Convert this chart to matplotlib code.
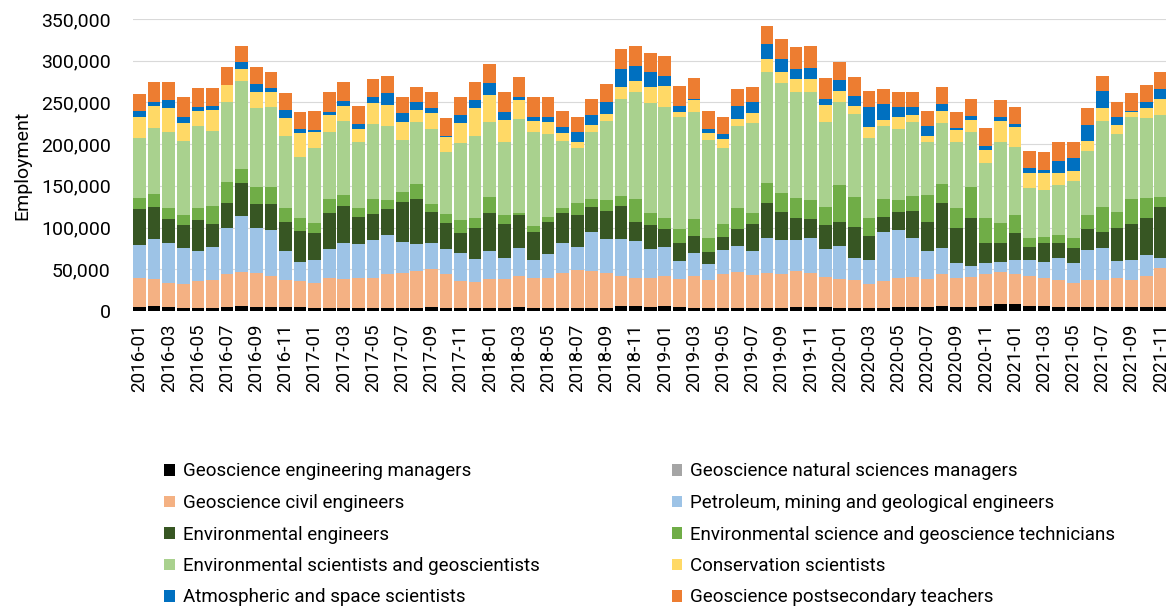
import matplotlib
matplotlib.use('Agg')

import matplotlib.pyplot as plt
import matplotlib.ticker as mticker
from matplotlib.patches import Patch
import numpy as np

plt.rcParams['font.family'] = ['Roboto', 'DejaVu Sans']

months = ['%d-%02d' % (y, m) for y in range(2016, 2022) for m in range(1, 13)][:71]

# employment, thousands
eng_managers = [5, 6, 5, 3, 4, 4, 5, 6, 5, 5, 5, 5,
                3, 3, 4, 4, 4, 4, 4, 4, 5, 4, 4, 4,
                4, 4, 5, 4, 4, 4, 4, 4, 4, 6, 6, 5,
                6, 5, 4, 4, 4, 4, 4, 4, 3, 5, 5, 5,
                4, 4, 3, 4, 5, 5, 5, 6, 5, 5, 6, 8,
                8, 6, 6, 5, 5, 5, 5, 5, 5, 5, 5]
nat_managers = [0] * 71
civil = [34, 32, 28, 29, 32, 33, 39, 41, 40, 37, 32, 31,
         31, 37, 34, 35, 36, 40, 42, 44, 45, 40, 32, 31,
         34, 34, 37, 35, 35, 42, 45, 44, 42, 36, 33, 34,
         36, 33, 38, 33, 40, 43, 39, 42, 41, 43, 41, 36,
         34, 33, 29, 32, 34, 36, 33, 38, 34, 36, 38, 39,
         36, 36, 33, 32, 29, 32, 32, 35, 32, 37, 46]
petroleum = [40, 48, 49, 43, 36, 40, 55, 67, 54, 55, 35, 23,
             27, 34, 44, 41, 45, 47, 37, 32, 32, 30, 33, 27,
             34, 26, 33, 22, 29, 35, 28, 47, 40, 44, 45, 35,
             35, 22, 27, 19, 29, 31, 29, 42, 41, 37, 41, 33,
             40, 27, 29, 59, 58, 47, 34, 32, 18, 13, 14, 12,
             17, 19, 20, 26, 23, 36, 38, 20, 24, 25, 13]
env_engineers = [43, 39, 28, 28, 37, 27, 31, 39, 29, 31, 35, 37,
                 32, 44, 44, 33, 31, 31, 48, 54, 37, 32, 24, 37,
                 46, 40, 40, 34, 39, 36, 38, 30, 34, 40, 23, 29,
                 21, 21, 21, 15, 16, 20, 32, 42, 34, 27, 23, 29,
                 29, 37, 29, 18, 22, 32, 35, 53, 42, 58, 23, 22,
                 32, 16, 23, 19, 18, 25, 20, 40, 43, 45, 61]
technicians = [14, 15, 14, 12, 14, 22, 25, 17, 21, 21, 17, 16,
               13, 16, 13, 11, 18, 11, 12, 18, 9, 10, 16, 12,
               19, 11, 3, 7, 6, 6, 15, 9, 13, 12, 27, 14,
               14, 17, 20, 16, 15, 25, 13, 24, 23, 23, 23, 22,
               44, 36, 22, 21, 14, 18, 32, 23, 24, 37, 30, 25,
               22, 11, 7, 9, 12, 17, 30, 19, 30, 23, 12]
env_scientists = [71, 79, 90, 89, 99, 90, 95, 106, 94, 95, 86, 73,
                  89, 80, 89, 78, 90, 89, 62, 74, 90, 74, 92, 99,
                  90, 88, 112, 113, 99, 81, 65, 80, 95, 116, 129, 132,
                  133, 134, 129, 118, 91, 99, 108, 133, 131, 127, 129, 102,
                  99, 99, 95, 88, 85, 89, 63, 73, 79, 65, 66, 97,
                  81, 59, 56, 60, 69, 77, 103, 93, 98, 96, 98]
conservation = [26, 27, 29, 21, 18, 25, 21, 14, 20, 18, 21, 28,
                19, 21, 18, 16, 25, 25, 22, 15, 19, 19, 24, 33,
                32, 26, 23, 13, 14, 9, 7, 9, 8, 14, 13, 20,
                25, 6, 14, 8, 11, 8, 12, 15, 13, 16, 16, 20,
                14, 10, 14, 7, 15, 8, 8, 15, 15, 15, 16, 25,
                24, 19, 20, 15, 12, 12, 15, 11, 7, 12, 19]
atmospheric = [7, 5, 10, 7, 4, 5, 0, 8, 9, 5, 10, 5,
               3, 4, 6, 6, 7, 14, 10, 9, 6, 1, 10, 10,
               14, 9, 4, 4, 7, 7, 13, 12, 14, 22, 18, 17,
               12, 8, 1, 5, 6, 16, 13, 18, 16, 12, 13, 7,
               13, 12, 23, 19, 11, 9, 12, 8, 2, 5, 5, 4,
               4, 5, 4, 14, 15, 19, 21, 10, 1, 8, 12]
teachers = [20, 23, 22, 25, 23, 21, 22, 20, 21, 20, 20, 20,
            23, 24, 23, 22, 22, 21, 20, 18, 19, 21, 21, 22,
            23, 24, 24, 24, 23, 20, 18, 19, 22, 24, 24, 23,
            24, 24, 25, 22, 20, 20, 19, 22, 24, 27, 27, 25,
            21, 23, 20, 18, 19, 18, 18, 20, 20, 20, 21, 21,
            20, 21, 21, 22, 20, 20, 18, 18, 21, 20, 20]

series = [
    ('Geoscience engineering managers', eng_managers, '#000000'),
    ('Geoscience natural sciences managers', nat_managers, '#a5a5a5'),
    ('Geoscience civil engineers', civil, '#f4b183'),
    ('Petroleum, mining and geological engineers', petroleum, '#9dc3e6'),
    ('Environmental engineers', env_engineers, '#375623'),
    ('Environmental science and geoscience technicians', technicians, '#70ad47'),
    ('Environmental scientists and geoscientists', env_scientists, '#a9d18e'),
    ('Conservation scientists', conservation, '#ffd966'),
    ('Atmospheric and space scientists', atmospheric, '#0070c0'),
    ('Geoscience postsecondary teachers', teachers, '#ed7d31'),
]

fig = plt.figure(figsize=(11.66, 6.07), dpi=100)
ax = fig.add_axes([133 / 1166, 1 - 311 / 607, 1 - 133 / 1166, 292 / 607])

x = np.arange(len(months))
bottom = np.zeros(len(months))
handles = []
for name, vals, color in series:
    v = np.array(vals) * 1000
    ax.bar(x, v, 0.87, bottom=bottom, color=color, zorder=2)
    bottom += v
    handles.append(Patch(facecolor=color, label=name))

ax.set_ylim(0, 350000)
ax.set_xlim(-0.45, 70.36)
ax.yaxis.set_major_locator(mticker.MultipleLocator(50000))
ax.yaxis.set_major_formatter(mticker.FuncFormatter(lambda v, p: '{:,.0f}'.format(v)))
ax.grid(axis='y', color='#d9d9d9', linewidth=0.8, zorder=0)
ax.set_xticks(x[::2])
ax.set_xticklabels(months[::2], rotation=90)
ax.tick_params(axis='y', length=0, labelsize=14, pad=16)
ax.tick_params(axis='x', length=0, labelsize=13.5, pad=9)
for s in ax.spines.values():
    s.set_visible(False)
ax.set_ylabel('Employment', fontsize=14)
ax.yaxis.set_label_coords(-102 / 1033, 0.5)

kw = dict(loc='upper left', frameon=False, fontsize=13.5, handlelength=0.55,
          handleheight=0.55, handletextpad=0.45, labelspacing=0.72, borderaxespad=0)
fig.legend(handles=handles[0::2], bbox_to_anchor=(157 / 1166, 1 - 455 / 607), **kw)
fig.legend(handles=handles[1::2], bbox_to_anchor=(664 / 1166, 1 - 455 / 607), **kw)

fig.savefig('out.png', dpi=100)
